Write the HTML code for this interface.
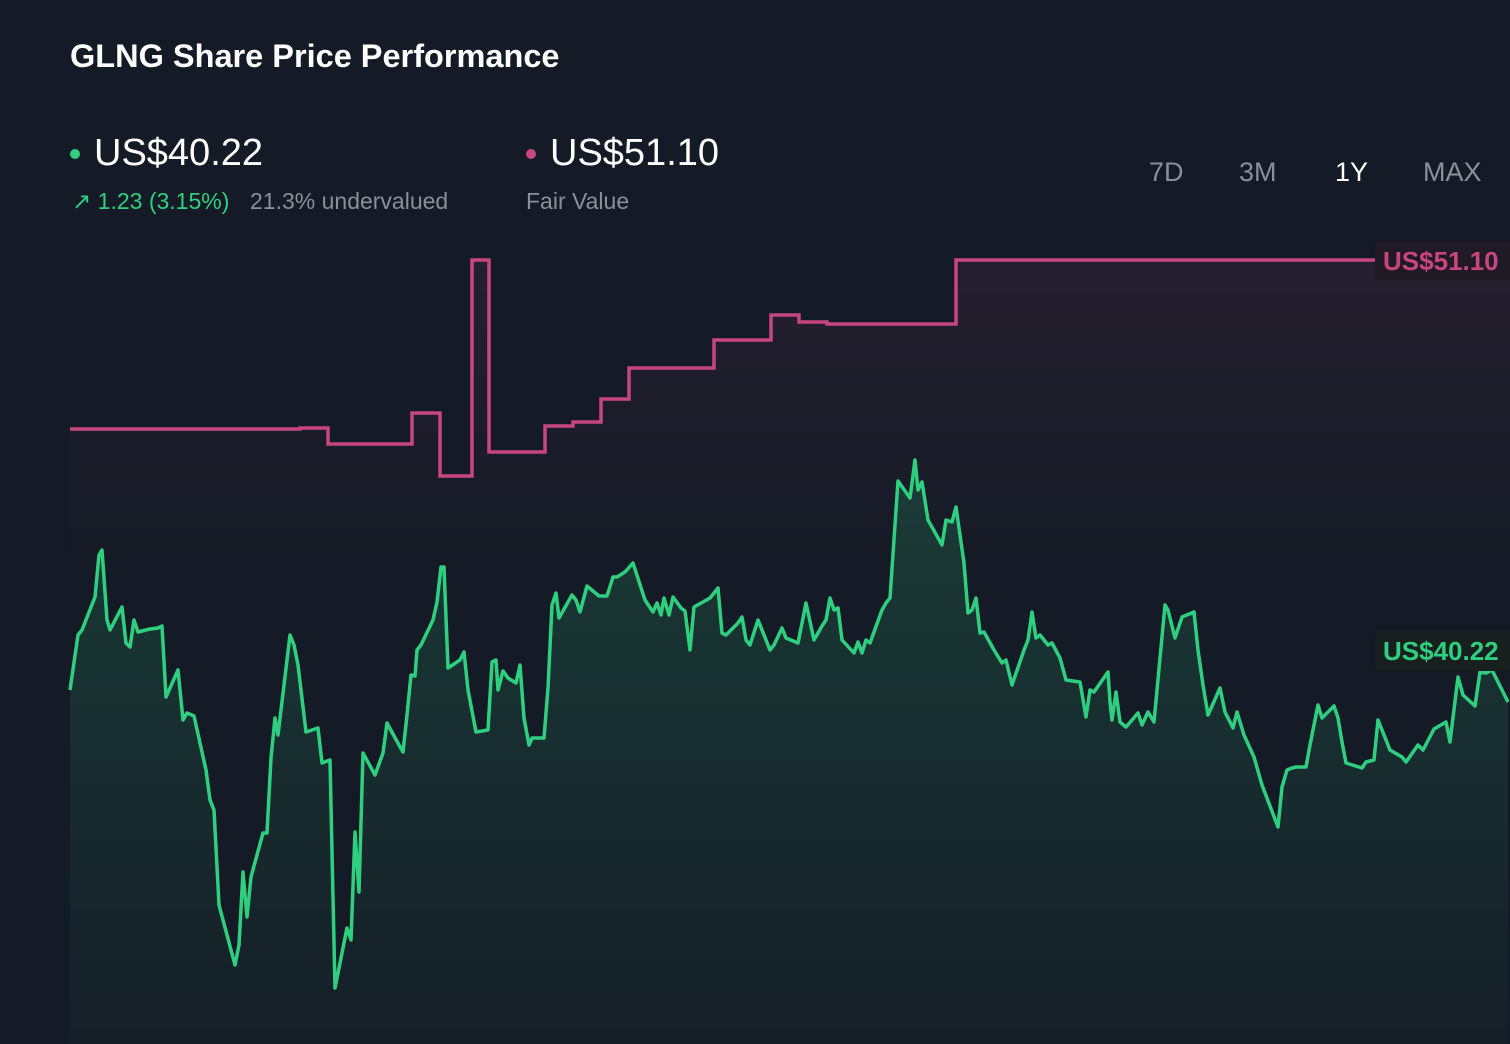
<!DOCTYPE html>
<html><head><meta charset="utf-8">
<style>
body{margin:0;background:#151b26;width:1510px;height:1044px;overflow:hidden;font-family:"Liberation Sans",sans-serif;position:relative}
.t{position:absolute;white-space:nowrap}
</style></head><body>
<div class="t" style="left:70px;top:38px;font-size:32.5px;font-weight:bold;color:#fff">GLNG Share Price Performance</div>
<div class="t" style="left:70px;top:149px;width:10px;height:10px;border-radius:50%;background:#2fcf80"></div>
<div class="t" style="left:94px;top:132px;font-size:38px;color:#fff">US$40.22</div>
<div class="t" style="left:72px;top:188px;font-size:23px;color:#2fcf80">↗ 1.23 (3.15%)</div>
<div class="t" style="left:250px;top:188px;font-size:23px;color:#8a8f98">21.3% undervalued</div>
<div class="t" style="left:526px;top:149px;width:10px;height:10px;border-radius:50%;background:#c7467f"></div>
<div class="t" style="left:550px;top:132px;font-size:38px;color:#fff">US$51.10</div>
<div class="t" style="left:526px;top:188px;font-size:23px;color:#8a8f98">Fair Value</div>
<div class="t" style="left:1149px;top:157px;font-size:27px;color:#8a8f98">7D</div>
<div class="t" style="left:1239px;top:157px;font-size:27px;color:#8a8f98">3M</div>
<div class="t" style="left:1335px;top:157px;font-size:27px;color:#fff">1Y</div>
<div class="t" style="left:1423px;top:157px;font-size:27px;color:#8a8f98">MAX</div>
<svg id="c" width="1510" height="1044" style="position:absolute;left:0;top:0">
<defs>
<linearGradient id="gg" x1="0" y1="0" x2="0" y2="1"><stop offset="0" stop-color="#2fcf80" stop-opacity="0.18"/><stop offset="1" stop-color="#2fcf80" stop-opacity="0.02"/></linearGradient>
<linearGradient id="pg" gradientUnits="userSpaceOnUse" x1="0" y1="260" x2="0" y2="560"><stop offset="0" stop-color="#c7467f" stop-opacity="0.09"/><stop offset="1" stop-color="#c7467f" stop-opacity="0"/></linearGradient>
</defs>
</svg>
<div class="t" style="left:1375px;top:241px;width:140px;height:40px;background:#1f1a24;color:#c7467f;font-size:26px;font-weight:bold;line-height:40px;padding-left:8px;box-sizing:border-box;border-radius:4px">US$51.10</div>
<div class="t" style="left:1375px;top:631px;width:140px;height:40px;background:#171f1f;color:#2fcf80;font-size:26px;font-weight:bold;line-height:40px;padding-left:8px;box-sizing:border-box;border-radius:4px">US$40.22</div>
<script>
const priceT=[0,8,12,25,29,32,37,40,52,56,60,64,68,80,88,92,96,108,113,117,124,136,140,144,149,165,169,173,177,181,193,197,201,205,208,220,224,228,236,248,252,260,265,277,281,285,289,293,305,313,317,329,333,337,341,345,347,351,363,367,371,374,378,390,394,398,406,418,422,426,428,433,438,446,450,454,459,462,474,478,482,486,489,502,506,510,517,529,537,543,547,555,563,575,583,587,591,594,599,603,611,615,620,624,640,648,652,656,668,672,676,680,688,700,704,712,716,728,736,744,752,756,760,764,768,772,784,788,792,796,800,812,816,820,828,840,845,848,852,858,872,876,882,886,894,898,902,906,910,914,924,932,936,942,954,958,962,966,970,978,982,990,996,1010,1016,1020,1024,1038,1040,1042,1046,1050,1056,1068,1072,1078,1084,1095,1098,1105,1112,1124,1128,1133,1138,1150,1155,1163,1167,1174,1184,1192,1208,1212,1217,1222,1226,1236,1240,1248,1252,1264,1268,1272,1276,1292,1296,1304,1308,1320,1332,1336,1348,1353,1364,1376,1380,1388,1393,1405,1410,1416,1422,1438];
const priceV=[29.6,32.35,32.6,34.25,36.35,36.6,33.1,32.6,33.75,31.95,31.75,33.1,32.5,32.65,32.7,32.8,29.25,30.6,28.1,28.45,28.3,25.6,24.1,23.6,18.85,15.85,16.85,20.5,18.25,20.25,22.45,22.45,26.2,28.2,27.35,32.35,31.85,30.85,27.5,27.7,25.95,26.1,14.7,17.7,17.1,22.5,19.5,26.45,25.35,26.45,27.95,26.85,26.5,28.35,30.35,30.3,31.6,31.85,33.1,34.0,35.75,35.75,30.7,31.1,31.5,29.6,27.5,27.6,31.0,31.1,29.6,30.55,30.2,29.95,30.85,28.2,26.85,27.2,27.2,29.7,33.85,34.45,33.2,34.35,34.1,33.5,34.8,34.3,34.3,35.25,35.25,35.5,35.95,34.1,33.5,33.95,33.35,34.2,33.35,34.25,33.7,33.55,31.6,33.75,34.2,34.7,32.45,32.35,32.95,33.25,32.1,31.85,33.1,31.6,31.85,32.7,32.2,31.95,33.95,32.1,32.8,33.1,34.2,33.6,33.7,32.1,31.45,32.0,31.45,32.1,31.95,33.6,33.95,34.2,40.05,39.2,41.1,39.6,40.0,38.1,36.85,38.1,38.0,38.75,35.95,33.45,33.6,34.2,32.45,32.5,31.6,30.95,31.1,29.85,31.6,32.1,33.5,32.2,32.35,31.85,31.95,31.2,30.1,30.0,28.25,29.6,29.5,30.5,29.0,28.1,29.5,28.0,27.75,28.45,27.85,28.5,28.0,33.85,33.6,32.2,33.25,33.5,31.6,29.85,28.35,29.7,28.5,27.7,28.5,27.35,26.25,24.85,22.75,24.75,25.6,25.7,25.75,25.75,26.85,28.85,28.2,28.8,28.2,27.0,25.95,25.7,26.0,26.1,28.1,26.6,26.25,26.0,26.85,26.6,27.65,28.0,27.0,30.25,29.35,28.8,30.5,30.45,30.6,29.0];
const fairT=[0,230,258,342,370,402,419,475,503,531,559,644,701,729,757,886,1440];
const fairV=[42.65,42.7,41.9,43.45,40.3,51.1,41.5,42.8,43.0,44.15,45.7,47.1,48.35,48.0,47.9,51.1,51.1];
const xS=t=>70+t;
const yS=v=>260+(51.1-v)*20;
const svg=document.getElementById('c');
const NS='http://www.w3.org/2000/svg';
function mk(tag,attrs){const e=document.createElementNS(NS,tag);for(const k in attrs)e.setAttribute(k,attrs[k]);svg.appendChild(e);return e;}
let fd='';
for(let i=0;i<fairT.length;i++){
  const x=xS(fairT[i]),y=yS(fairV[i]);
  if(i===0)fd+='M'+x+','+y;else fd+=' H'+x+' V'+y;
}
const fa=mk('path',{d:fd+' H1510 V1044 H70 Z',fill:'url(#pg)'});


const fl=mk('path',{d:fd+' H1374',fill:'none',stroke:'#c7467f','stroke-width':3.5});


let pd='';
for(let i=0;i<priceT.length;i++){pd+=(i?' L':'M')+xS(priceT[i])+','+yS(priceV[i]).toFixed(1);}
const pa=mk('path',{d:pd+' L'+xS(priceT[priceT.length-1])+',1044 L70,1044 Z',fill:'url(#gg)'});


const pl=mk('path',{d:pd,fill:'none',stroke:'#2fcf80','stroke-width':3.5,'stroke-linejoin':'round'});


</script>
</body></html>
